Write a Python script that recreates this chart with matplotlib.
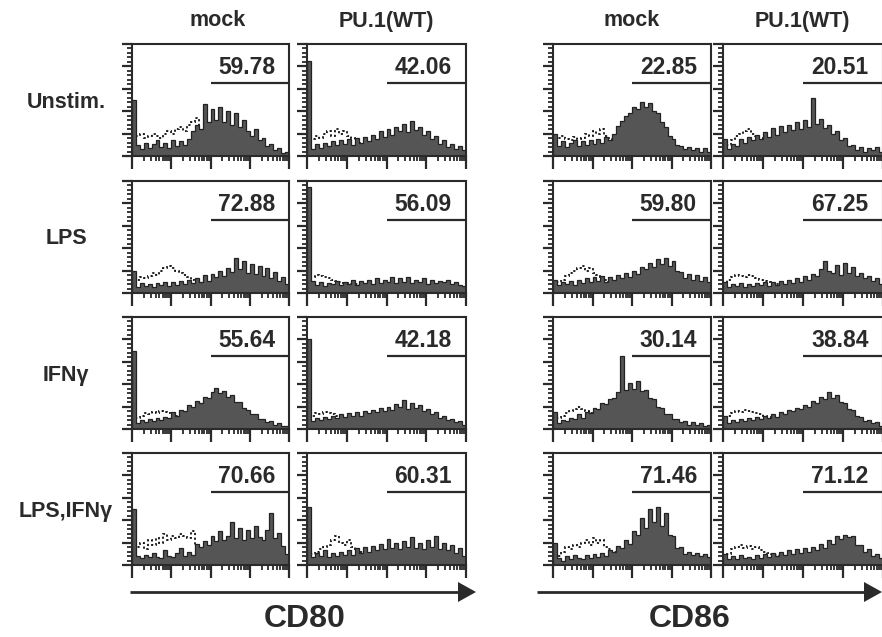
import matplotlib
matplotlib.use('Agg')
import matplotlib.pyplot as plt
import numpy as np
from matplotlib.patches import Polygon

plt.rcParams['font.family'] = ['Liberation Sans', 'DejaVu Sans']

# ---------------- data ----------------
row_labels = ["Unstim.", "LPS", "IFN\u03b3", "LPS,IFN\u03b3"]
col_labels = ["mock", "PU.1(WT)", "mock", "PU.1(WT)"]
marker_labels = ["CD80", "CD86"]
percent = [
    ["59.78", "42.06", "22.85", "20.51"],
    ["72.88", "56.09", "59.80", "67.25"],
    ["55.64", "42.18", "30.14", "38.84"],
    ["70.66", "60.31", "71.46", "71.12"],
]

# stained-sample histograms (40 log-spaced channels, % of panel height)
fill11 = [50, 10, 6, 12, 7, 11, 14, 8, 12, 7, 14, 9, 13, 10, 15, 22, 28, 24, 46, 30, 42, 32, 44, 30, 40, 28, 38, 26, 32, 22, 18, 24, 14, 16, 9, 11, 5, 7, 3, 4]
fill12 = [85, 6, 11, 7, 12, 9, 13, 10, 14, 11, 15, 10, 16, 12, 17, 13, 19, 15, 22, 17, 24, 19, 26, 22, 29, 21, 31, 23, 26, 19, 22, 15, 18, 11, 14, 8, 11, 6, 9, 5]
fill13 = [20, 9, 13, 8, 12, 14, 9, 13, 10, 14, 11, 15, 12, 17, 14, 20, 27, 31, 36, 38, 44, 42, 48, 44, 47, 40, 38, 30, 26, 18, 15, 10, 9, 6, 8, 5, 7, 4, 7, 4]
fill14 = [15, 6, 11, 9, 15, 12, 17, 14, 19, 15, 21, 17, 25, 19, 27, 21, 28, 23, 30, 24, 32, 26, 52, 29, 33, 25, 28, 20, 22, 14, 16, 9, 10, 5, 8, 4, 7, 5, 8, 4]
fill21 = [20, 5, 9, 6, 8, 5, 9, 7, 10, 6, 10, 7, 11, 8, 12, 9, 13, 10, 16, 11, 17, 14, 20, 15, 22, 19, 31, 21, 29, 18, 26, 17, 24, 15, 22, 13, 19, 11, 14, 8]
fill22 = [95, 11, 7, 10, 6, 9, 8, 11, 7, 10, 8, 12, 7, 11, 9, 12, 8, 13, 9, 12, 10, 14, 9, 13, 10, 14, 9, 12, 10, 13, 8, 12, 9, 11, 10, 12, 8, 10, 7, 6]
fill23 = [12, 7, 10, 8, 11, 7, 12, 9, 13, 10, 14, 11, 15, 10, 14, 12, 16, 13, 18, 14, 20, 17, 23, 21, 27, 23, 30, 26, 31, 24, 29, 20, 19, 13, 17, 12, 16, 11, 14, 10]
fill24 = [10, 5, 8, 6, 9, 5, 8, 6, 9, 7, 10, 6, 10, 7, 11, 8, 12, 9, 13, 10, 15, 12, 17, 15, 21, 29, 20, 18, 25, 16, 27, 18, 23, 15, 18, 13, 15, 11, 13, 8]
fill31 = [70, 5, 8, 6, 9, 7, 10, 8, 11, 10, 15, 12, 17, 16, 21, 20, 25, 23, 29, 28, 33, 37, 32, 34, 29, 30, 24, 24, 19, 17, 13, 13, 9, 9, 6, 7, 4, 5, 3, 3]
fill32 = [80, 7, 10, 8, 11, 9, 12, 10, 13, 11, 14, 12, 15, 12, 16, 14, 17, 15, 19, 16, 20, 17, 22, 20, 26, 18, 23, 19, 21, 16, 18, 13, 15, 10, 12, 8, 9, 6, 7, 4]
fill33 = [15, 5, 8, 7, 10, 9, 13, 10, 15, 14, 19, 18, 23, 22, 27, 28, 33, 65, 35, 41, 36, 43, 34, 35, 28, 27, 20, 19, 13, 13, 9, 9, 6, 7, 4, 6, 4, 5, 3, 4]
fill34 = [12, 5, 8, 6, 9, 7, 10, 8, 11, 9, 12, 10, 13, 11, 15, 13, 17, 16, 19, 18, 21, 20, 25, 23, 29, 27, 33, 28, 30, 24, 23, 18, 17, 12, 11, 7, 8, 5, 6, 3]
fill41 = [50, 8, 6, 9, 7, 11, 7, 6, 13, 8, 7, 11, 15, 8, 12, 9, 19, 16, 21, 18, 26, 21, 30, 22, 26, 38, 24, 33, 22, 31, 24, 35, 25, 22, 31, 46, 24, 29, 17, 10]
fill42 = [52, 7, 11, 8, 13, 7, 11, 8, 12, 9, 13, 9, 15, 11, 16, 12, 17, 13, 19, 14, 23, 15, 20, 14, 21, 16, 25, 15, 20, 14, 22, 16, 26, 14, 20, 13, 18, 11, 15, 8]
fill43 = [20, 6, 4, 8, 5, 9, 6, 5, 9, 6, 10, 7, 11, 8, 13, 12, 17, 15, 22, 19, 30, 27, 42, 33, 50, 38, 52, 35, 46, 27, 26, 15, 16, 10, 12, 9, 11, 8, 10, 7]
fill44 = [10, 5, 8, 5, 9, 6, 7, 5, 9, 6, 10, 7, 11, 8, 12, 9, 13, 10, 14, 11, 15, 12, 16, 13, 19, 15, 22, 19, 26, 23, 27, 25, 26, 18, 18, 12, 14, 8, 10, 6]

# control (dotted) histograms
ctrl11 = [0, 18, 20, 16, 18, 20, 18, 16, 20, 22, 20, 24, 26, 22, 28, 30, 34, 20, 15, 12, 10, 10, 8, 8, 6, 6, 5, 5, 4, 4, 3, 3, 2, 2, 2, 1, 1, 1, 1, 0]
ctrl12 = [0, 15, 18, 16, 20, 22, 18, 24, 20, 22, 18, 16, 14, 12, 10, 9, 8, 8, 7, 6, 6, 5, 5, 5, 4, 4, 4, 3, 3, 3, 3, 2, 2, 2, 2, 1, 1, 1, 1, 0]
ctrl13 = [0, 16, 18, 15, 14, 17, 15, 16, 20, 18, 22, 20, 24, 18, 16, 14, 12, 10, 9, 8, 7, 6, 6, 5, 5, 4, 4, 4, 3, 3, 3, 2, 2, 2, 2, 1, 1, 1, 1, 0]
ctrl14 = [0, 10, 14, 18, 20, 22, 24, 20, 18, 16, 14, 12, 10, 9, 8, 7, 7, 6, 6, 5, 5, 5, 4, 4, 4, 3, 3, 3, 3, 2, 2, 2, 2, 2, 1, 1, 1, 1, 1, 0]
ctrl21 = [0, 12, 14, 13, 15, 18, 16, 20, 22, 24, 22, 20, 18, 16, 14, 12, 10, 9, 8, 7, 6, 6, 5, 5, 4, 4, 4, 3, 3, 3, 3, 2, 2, 2, 2, 1, 1, 1, 1, 0]
ctrl22 = [0, 14, 16, 15, 14, 13, 12, 11, 10, 9, 9, 8, 8, 7, 7, 6, 6, 5, 5, 5, 4, 4, 4, 4, 3, 3, 3, 3, 3, 2, 2, 2, 2, 2, 2, 1, 1, 1, 1, 0]
ctrl23 = [0, 10, 12, 15, 18, 20, 22, 24, 20, 22, 18, 16, 14, 12, 10, 9, 8, 7, 6, 6, 5, 5, 4, 4, 4, 3, 3, 3, 3, 2, 2, 2, 2, 2, 1, 1, 1, 1, 1, 0]
ctrl24 = [0, 12, 14, 16, 15, 14, 16, 15, 13, 12, 11, 10, 9, 8, 8, 7, 7, 6, 6, 5, 5, 5, 4, 4, 4, 3, 3, 3, 3, 2, 2, 2, 2, 2, 1, 1, 1, 1, 1, 0]
ctrl31 = [0, 10, 12, 14, 13, 15, 14, 16, 15, 14, 13, 12, 11, 10, 9, 8, 7, 7, 6, 6, 5, 5, 4, 4, 4, 3, 3, 3, 3, 2, 2, 2, 2, 2, 1, 1, 1, 1, 1, 0]
ctrl32 = [0, 12, 14, 13, 15, 14, 13, 12, 11, 10, 9, 9, 8, 8, 7, 7, 6, 6, 5, 5, 5, 4, 4, 4, 3, 3, 3, 3, 2, 2, 2, 2, 2, 2, 1, 1, 1, 1, 1, 0]
ctrl33 = [0, 10, 12, 14, 16, 18, 20, 18, 16, 14, 12, 11, 10, 9, 8, 7, 7, 6, 6, 5, 5, 4, 4, 4, 3, 3, 3, 3, 2, 2, 2, 2, 2, 2, 1, 1, 1, 1, 1, 0]
ctrl34 = [0, 12, 14, 16, 15, 17, 16, 15, 14, 13, 12, 11, 10, 9, 8, 7, 7, 6, 6, 5, 5, 4, 4, 4, 3, 3, 3, 3, 2, 2, 2, 2, 2, 2, 1, 1, 1, 1, 1, 0]
ctrl41 = [0, 16, 20, 14, 22, 18, 24, 20, 28, 22, 26, 24, 28, 26, 24, 30, 18, 12, 10, 9, 8, 7, 7, 6, 6, 5, 5, 4, 4, 4, 3, 3, 3, 2, 2, 2, 2, 1, 1, 0]
ctrl42 = [0, 10, 12, 14, 16, 18, 22, 26, 20, 18, 22, 16, 14, 12, 10, 9, 8, 7, 7, 6, 6, 5, 5, 4, 4, 4, 3, 3, 3, 3, 2, 2, 2, 2, 2, 1, 1, 1, 1, 0]
ctrl43 = [0, 8, 12, 16, 14, 18, 16, 20, 22, 18, 24, 20, 22, 16, 14, 12, 10, 9, 8, 7, 6, 6, 5, 5, 4, 4, 4, 3, 3, 3, 2, 2, 2, 2, 2, 1, 1, 1, 1, 0]
ctrl44 = [0, 10, 14, 16, 18, 15, 17, 14, 16, 13, 12, 11, 10, 9, 8, 8, 7, 7, 6, 6, 5, 5, 4, 4, 4, 3, 3, 3, 3, 2, 2, 2, 2, 2, 1, 1, 1, 1, 1, 0]

fills = [[fill11, fill12, fill13, fill14],
         [fill21, fill22, fill23, fill24],
         [fill31, fill32, fill33, fill34],
         [fill41, fill42, fill43, fill44]]
ctrls = [[ctrl11, ctrl12, ctrl13, ctrl14],
         [ctrl21, ctrl22, ctrl23, ctrl24],
         [ctrl31, ctrl32, ctrl33, ctrl34],
         [ctrl41, ctrl42, ctrl43, ctrl44]]

# ---------------- layout ----------------
W, H = 882, 637
fig = plt.figure(figsize=(W / 100, H / 100), dpi=100)
fig.patch.set_facecolor('white')

col_px = [(132, 289), (307, 466), (553, 711), (723, 883)]
row_px = [(44, 156), (181, 293), (317, 429), (453, 565)]

ink = '#2a2a2a'
edges = np.linspace(0, 1, 41)
major_x = [0, 0.25, 0.5, 0.75, 1.0]
minor_x = [0.25 * (d + np.log10(k)) for d in range(4) for k in range(2, 10)]

for r in range(4):
    y0, y1 = row_px[r]
    for c in range(4):
        x0, x1 = col_px[c]
        ax = fig.add_axes([x0 / W, 1 - y1 / H, (x1 - x0) / W, (y1 - y0) / H])
        ax.set_xlim(0, 1)
        ax.set_ylim(0, 100)
        ax.stairs(ctrls[r][c], edges, color='#111111', lw=1.3,
                  linestyle=(0, (1.2, 1.4)), zorder=2)
        ax.stairs(fills[r][c], edges, fill=True, color='#555555', zorder=3)
        ax.stairs(fills[r][c], edges, color='#222222', lw=0.9, zorder=4)
        ax.plot([0.5, 1.0], [65, 65], color=ink, lw=1.6, solid_capstyle='butt',
                clip_on=False, zorder=5)
        ax.text(0.73, 0.79, percent[r][c], transform=ax.transAxes,
                ha='center', va='center', fontsize=16.5, fontweight='bold', color=ink)
        for s in ax.spines.values():
            s.set_color(ink)
            s.set_linewidth(1.5)
            s.set_zorder(6)
        ax.set_xticks(major_x)
        ax.set_xticks(minor_x, minor=True)
        ax.set_yticks(np.arange(0, 101, 20))
        ax.set_yticks(np.arange(0, 101, 4), minor=True)
        ax.tick_params(which='major', direction='out', length=7, width=1.6,
                       color=ink, labelbottom=False, labelleft=False)
        ax.tick_params(which='minor', direction='out', length=3.5, width=1.3,
                       color=ink)
        ax.tick_params(axis='x', which='major', length=9)
        ax.set_facecolor('white')

# overlay for labels and arrows
ov = fig.add_axes([0, 0, 1, 1], facecolor='none')
ov.set_xlim(0, W)
ov.set_ylim(H, 0)
ov.axis('off')

for c in range(4):
    x0, x1 = col_px[c]
    cx = (x0 + min(x1, W)) / 2 + (7 if c == 0 else 0)
    ov.text(cx, 21, col_labels[c], ha='center', va='center',
            fontsize=15.5, fontweight='bold', color=ink)

for r in range(4):
    y0, y1 = row_px[r]
    ov.text(66, (y0 + y1) / 2 + 2, row_labels[r], ha='center', va='center',
            fontsize=15.5, fontweight='bold', color=ink)

# axis arrows
for (xs, xe, xt), lab, lx in [((130, 460, 476), marker_labels[0], 305),
                               ((537, 866, 882), marker_labels[1], 690)]:
    ov.plot([xs, xe], [592, 592], color=ink, lw=2, solid_capstyle='butt')
    ov.add_patch(Polygon([[xe - 2, 582], [xt, 592], [xe - 2, 602]], closed=True,
                         color=ink, lw=0))
    ov.text(lx, 619, lab, ha='center', va='center', fontsize=23,
            fontweight='bold', color=ink)

fig.savefig('out.png', dpi=100, facecolor='white')
